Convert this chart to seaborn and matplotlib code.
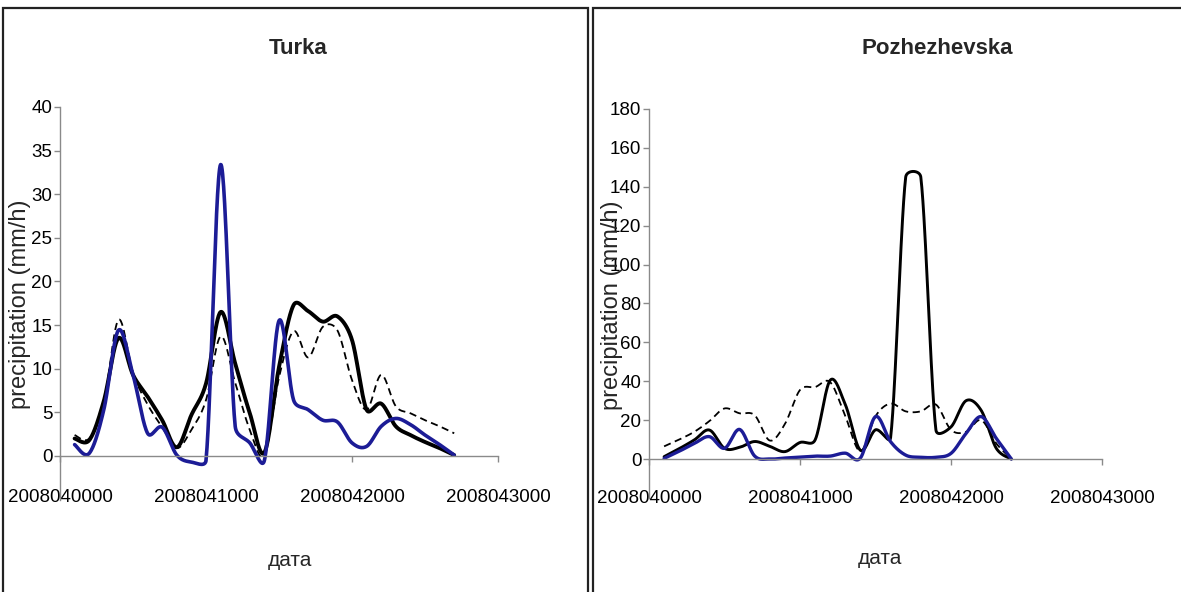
import numpy as np
import pandas as pd
import matplotlib
matplotlib.use("Agg")
import matplotlib.pyplot as plt
from matplotlib.patches import Rectangle
import seaborn as sns

sns.set_theme(style="ticks")
plt.rcParams['font.family'] = ['Liberation Sans', 'DejaVu Sans']

# Turka: daily values, 1..27 April 2008
turka_dates = [2008040100, 2008040200, 2008040300, 2008040400, 2008040500, 2008040600,
               2008040700, 2008040800, 2008040900, 2008041000, 2008041100, 2008041200,
               2008041300, 2008041400, 2008041500, 2008041600, 2008041700, 2008041800,
               2008041900, 2008042000, 2008042100, 2008042200, 2008042300, 2008042400,
               2008042500, 2008042600, 2008042700]
turka_black = [2.0, 1.8, 6.3, 13.5, 9.3, 6.8, 4.1, 1.0, 4.7, 8.3, 16.5, 10.6, 4.9, 0.4,
               10.2, 17.3, 16.6, 15.4, 16.0, 13.3, 5.3, 6.0, 3.4, 2.4, 1.6, 0.9, 0.1]
turka_dashed = [2.4, 2.0, 6.0, 15.6, 9.5, 5.9, 3.3, 0.9, 3.0, 6.4, 13.7, 8.4, 3.0, 0.1,
                9.0, 14.3, 11.3, 14.8, 14.4, 8.7, 5.3, 9.3, 5.7, 4.9, 4.1, 3.4, 2.6]
turka_blue = [1.3, 0.3, 5.3, 14.4, 9.3, 2.6, 3.3, 0.1, -0.7, -0.5, 33.4, 3.4, 1.5, -0.5,
              15.5, 6.4, 5.3, 4.1, 3.9, 1.5, 1.1, 3.4, 4.3, 3.6, 2.4, 1.3, 0.1]

# Pozhezhevska: daily values, 1..24 April 2008
pozh_dates = [2008040100, 2008040200, 2008040300, 2008040400, 2008040500, 2008040600,
              2008040700, 2008040800, 2008040900, 2008041000, 2008041100, 2008041200,
              2008041300, 2008041400, 2008041500, 2008041600, 2008041700, 2008041800,
              2008041900, 2008042000, 2008042100, 2008042200, 2008042300, 2008042400]
pozh_black = [1.2, 5.3, 9.8, 14.9, 5.5, 6.0, 9.0, 6.5, 3.8, 8.5, 9.8, 40.5, 28.0, 4.5,
              15.0, 11.0, 145.0, 145.0, 15.0, 16.5, 30.0, 25.0, 5.5, 0.0]
pozh_dashed = [6.5, 10.0, 14.0, 19.5, 26.0, 23.5, 22.5, 9.5, 18.0, 35.5, 37.0, 39.5, 22.0, 4.0,
               22.0, 28.5, 24.5, 24.5, 28.0, 15.0, 14.0, 20.0, 8.0, 0.0]
pozh_blue = [0.3, 4.0, 8.0, 11.5, 5.5, 15.2, 1.5, 0.0, 0.5, 1.0, 1.5, 1.5, 3.0, 0.5,
             21.8, 8.9, 2.0, 0.9, 0.9, 2.9, 13.2, 21.8, 10.6, 0.0]

x_ticks = [2008040000, 2008041000, 2008042000, 2008043000]
x_tick_labels = ["2008040000", "2008041000", "2008042000", "2008043000"]
turka_yticks = [0, 5, 10, 15, 20, 25, 30, 35, 40]
pozh_yticks = [0, 20, 40, 60, 80, 100, 120, 140, 160, 180]

W, H = 1181, 592
BLUE = "#1c1c96"
GRAY = "#8a8a8a"


def excel_smooth(ax, xs, ys, n=30):
    # Excel-like smoothed line: cubic Bezier pieces built in screen space
    pts = ax.transData.transform(np.column_stack([xs, ys]).astype(float))
    out = [pts[0]]
    m = len(pts)
    t = np.linspace(0, 1, n)[1:, None]
    for i in range(m - 1):
        p0, p1 = pts[max(i - 1, 0)], pts[i]
        p2, p3 = pts[i + 1], pts[min(i + 2, m - 1)]
        d12 = np.hypot(*(p2 - p1))
        d02 = np.hypot(*(p2 - p0))
        d13 = np.hypot(*(p3 - p1))
        f1 = min(1 / 6, d12 / (2 * d02)) if d02 > 0 else 0
        f2 = min(1 / 6, d12 / (2 * d13)) if d13 > 0 else 0
        c1 = p1 + (p2 - p0) * f1
        c2 = p2 - (p3 - p1) * f2
        seg = (1 - t) ** 3 * p1 + 3 * (1 - t) ** 2 * t * c1 + 3 * (1 - t) * t ** 2 * c2 + t ** 3 * p2
        out.extend(seg)
    back = ax.transData.inverted().transform(np.array(out))
    return pd.DataFrame({"date": back[:, 0], "value": back[:, 1]})


def draw_panel(ax, dates, black, dashed, blue, ylim, yticks, lw_black, lw_blue, xpad):
    ax.set_xlim(x_ticks[0], x_ticks[-1])
    ax.set_ylim(*ylim)
    series = [
        (dashed, "black", (0, (4, 2.5)), 1.3),
        (black, "black", "-", lw_black),
        (blue, BLUE, "-", lw_blue),
    ]
    for vals, color, ls, lw in series:
        df = excel_smooth(ax, dates, vals)
        sns.lineplot(data=df, x="date", y="value", sort=False, estimator=None,
                     color=color, linewidth=lw, linestyle=ls, ax=ax)
    ax.set_xlim(x_ticks[0], x_ticks[-1])
    ax.set_ylim(*ylim)
    for s in ["top", "right"]:
        ax.spines[s].set_visible(False)
    for s in ["left", "bottom"]:
        ax.spines[s].set_color(GRAY)
        ax.spines[s].set_linewidth(1.0)
    ax.spines["bottom"].set_position(("data", 0))
    ax.set_xticks(x_ticks, labels=x_tick_labels)
    ax.set_yticks(yticks, labels=[str(v) for v in yticks])
    ax.tick_params(axis="x", direction="out", length=4, width=1, color=GRAY,
                   pad=xpad, labelsize=13.5, labelcolor="black")
    ax.tick_params(axis="y", direction="out", length=4, width=1, color=GRAY,
                   pad=1.5, labelsize=13.5, labelcolor="black")
    ax.set_xlabel("")
    ax.set_ylabel("")
    ax.grid(False)
    ax.patch.set_alpha(0)


fig = plt.figure(figsize=(W / 100, H / 100), dpi=100)

ax1 = fig.add_axes([60 / W, 1 - 499.6 / H, 438 / W, (499.6 - 107) / H])
draw_panel(ax1, turka_dates, turka_black, turka_dashed, turka_blue,
           (-5, 40), turka_yticks, 2.8, 2.6, 20)

ax2 = fig.add_axes([649 / W, 1 - 497.9 / H, 453 / W, (497.9 - 109) / H])
draw_panel(ax2, pozh_dates, pozh_black, pozh_dashed, pozh_blue,
           (-20, 180), pozh_yticks, 2.1, 2.4, 18)

# chart area borders
fig.add_artist(Rectangle((3 / W, -0.1), 585 / W, 1.1 - 8 / H, transform=fig.transFigure,
                         fill=False, edgecolor="#222222", linewidth=1.6))
fig.add_artist(Rectangle((593 / W, -0.1), 0.6, 1.1 - 8 / H, transform=fig.transFigure,
                         fill=False, edgecolor="#222222", linewidth=1.6))

fig.text(298 / W, 1 - 48 / H, "Turka", ha="center", va="center", fontsize=16, fontweight="bold")
fig.text(937 / W, 1 - 48 / H, "Pozhezhevska", ha="center", va="center", fontsize=16, fontweight="bold")
fig.text(290 / W, 1 - 560 / H, "дата", ha="center", va="center", fontsize=15)
fig.text(880 / W, 1 - 558 / H, "дата", ha="center", va="center", fontsize=15)
fig.text(20 / W, 1 - 304 / H, "precipitation (mm/h)", rotation=90, ha="center", va="center",
         fontsize=17)
fig.text(612 / W, 1 - 305 / H, "precipitation (mm/h)", rotation=90, ha="center", va="center",
         fontsize=17)

fig.savefig("out.png", dpi=100)
